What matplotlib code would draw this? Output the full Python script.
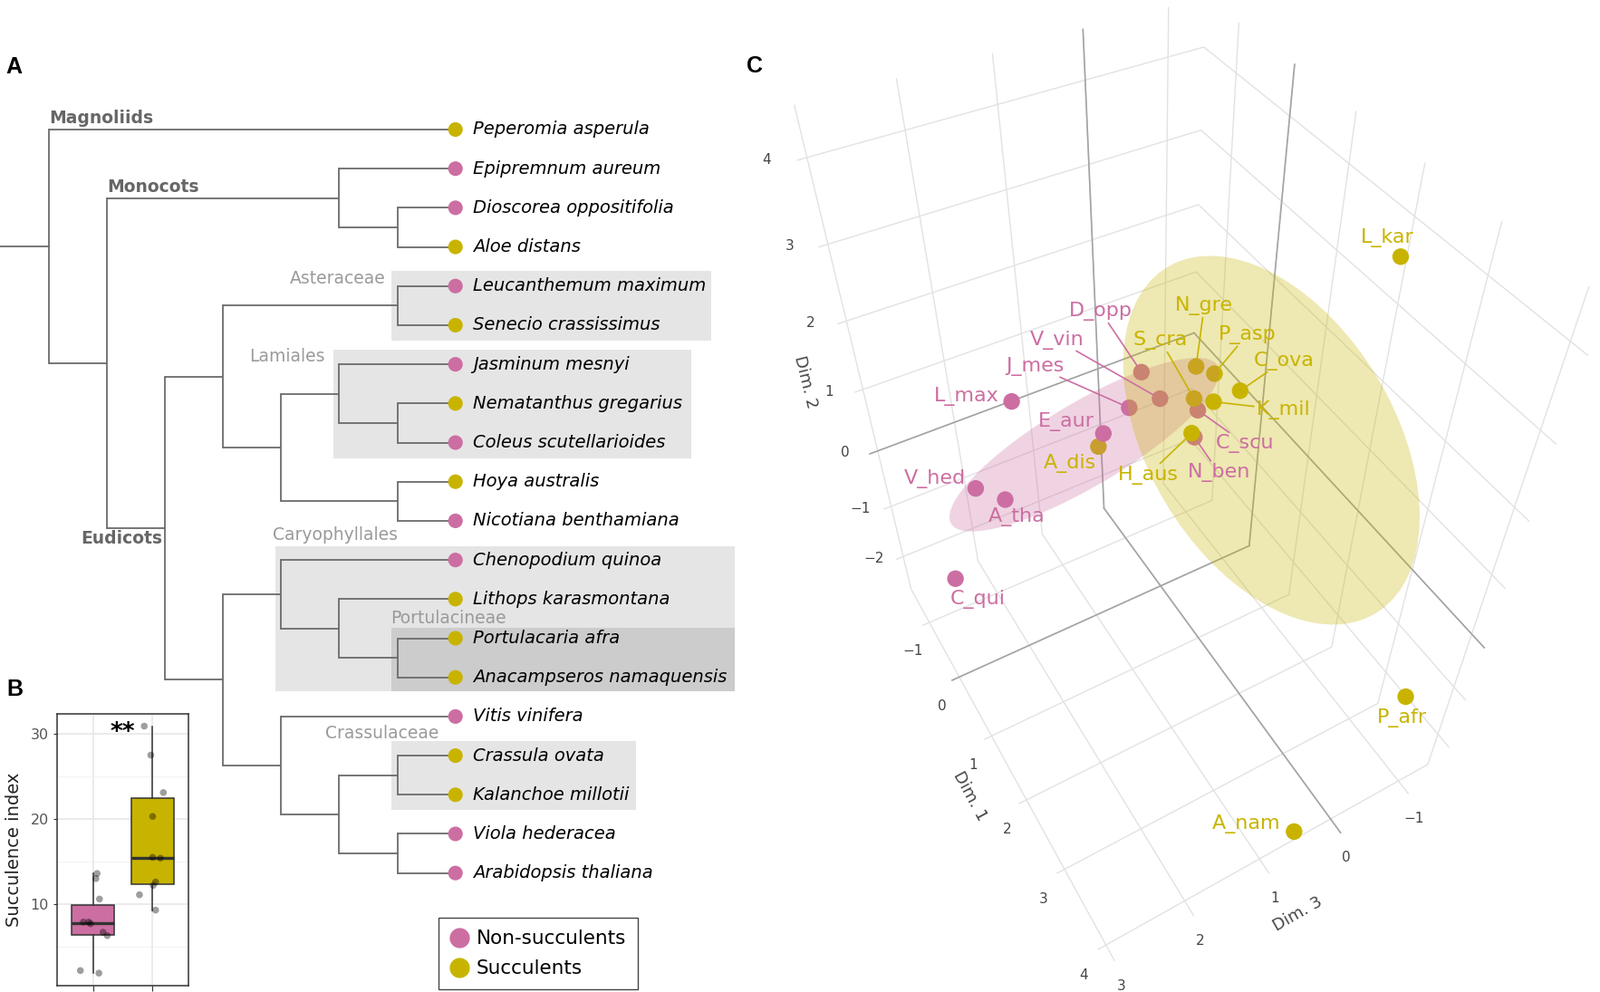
import numpy as np
import matplotlib
matplotlib.use("Agg")
import matplotlib.pyplot as plt
from matplotlib.patches import Rectangle, Polygon
from matplotlib.lines import Line2D

# ---------------- data ----------------
species = ["Peperomia asperula", "Epipremnum aureum", "Dioscorea oppositifolia",
           "Aloe distans", "Leucanthemum maximum", "Senecio crassissimus",
           "Jasminum mesnyi", "Nematanthus gregarius", "Coleus scutellarioides",
           "Hoya australis", "Nicotiana benthamiana", "Chenopodium quinoa",
           "Lithops karasmontana", "Portulacaria afra", "Anacampseros namaquensis",
           "Vitis vinifera", "Crassula ovata", "Kalanchoe millotii",
           "Viola hederacea", "Arabidopsis thaliana"]
short = ["P_asp", "E_aur", "D_opp", "A_dis", "L_max", "S_cra", "J_mes", "N_gre",
         "C_scu", "H_aus", "N_ben", "C_qui", "L_kar", "P_afr", "A_nam", "V_vin",
         "C_ova", "K_mil", "V_hed", "A_tha"]
succulent = [1, 0, 0, 1, 0, 1, 0, 1, 0, 1, 0, 0, 1, 1, 1, 0, 1, 1, 0, 0]

# MDS coordinates (panel C)
dim1 = [1.10, 0.66, 0.62, 0.69, -0.12, 1.09, 0.71, 0.95, 1.17, 1.24,
        1.28, 0.37, 1.64, 4.00, 4.10, 0.87, 1.35, 1.23, 0.05, 0.31]
dim2 = [2.06, 1.35, 1.97, 1.22, 1.50, 1.81, 1.63, 2.10, 1.71, 1.49,
        1.46, -0.32, 3.23, -0.62, -2.21, 1.76, 1.95, 1.81, 0.61, 0.55]
dim3 = [0.03, 1.11, 0.62, 1.19, 1.80, 0.26, 0.82, 0.16, 0.26, 0.37,
        0.36, 2.90, -1.72, -0.70, 0.64, 0.54, -0.13, 0.11, 2.40, 2.17]

# group ellipsoids: centre (dim1, dim2, dim3) and covariance in (dim3, dim1, dim2) order
ell_center = {0: (0.59, 1.22, 1.30), 1: (1.74, 1.50, -0.28)}
ell_cov = {0: [[2.4308, -0.2155, -0.8006],
               [-0.2155, 0.1701, 0.0193],
               [-0.8006, 0.0193, 0.4130]],
           1: [[1.4023, -0.6348, -0.2542],
               [-0.6348, 2.9810, -1.8956],
               [-0.2542, -1.8956, 1.7162]]}

# cladogram: (node column, children); integers are tip indices
tree = (0, [0, (1, [(5, [1, (6, [2, 3])]),
                    (2, [(3, [(6, [4, 5]),
                              (4, [(5, [6, (6, [7, 8])]), (6, [9, 10])])]),
                         (3, [(4, [11, (5, [12, (6, [13, 14])])]),
                              (4, [15, (5, [(6, [16, 17]), (6, [18, 19])])])])])])])
clade_names = ["Asteraceae", "Lamiales", "Caryophyllales", "Portulacineae", "Crassulaceae"]
clade_tips = [(4, 5), (6, 8), (11, 14), (13, 14), (16, 17)]

# succulence index (panel B)
non_succ = [2.2, 1.9, 13.6, 13.0, 10.6, 7.9, 7.9, 7.7, 6.7, 6.3]
non_jit = [-0.21, 0.10, 0.07, 0.05, 0.11, -0.16, -0.07, -0.04, 0.17, 0.24]
succ = [30.9, 27.5, 23.1, 20.3, 15.5, 15.4, 12.6, 12.2, 11.1, 9.3]
succ_jit = [-0.14, -0.03, 0.18, 0.0, 0.0, 0.13, 0.05, 0.01, -0.22, 0.05]

PINK = "#cc6ea2"
YEL = "#c8b400"
LINE = "#6b6b6b"
cols = [YEL if s else PINK for s in succulent]

W, H = 1766, 1095
fig = plt.figure(figsize=(W / 100, H / 100), dpi=100)

# ---------------- panel A: tree ----------------
axA = fig.add_axes([0, 0, 830 / W, 1055 / H])
axA.set_xlim(-0.842, 12.106)
axA.set_ylim(22.04, -2.384)
axA.axis("off")
TIP = 7


def draw(node):
    if isinstance(node, int):
        return node
    col, kids = node
    ys = []
    for k in kids:
        y = draw(k)
        kc = TIP if isinstance(k, int) else k[0]
        axA.plot([col, kc], [y, y], color=LINE, lw=1.3, solid_capstyle="butt", zorder=2)
        ys.append(y)
    axA.plot([col, col], [min(ys), max(ys)], color=LINE, lw=1.3,
             solid_capstyle="projecting", zorder=2)
    return (min(ys) + max(ys)) / 2


yroot = draw(tree)
axA.plot([-0.842, 0], [yroot, yroot], color=LINE, lw=1.3, zorder=2)

# clade shading
box_left = [5.9, 4.9, 3.9, 5.9, 5.9]
box_right = [11.40, 11.06, 11.81, 11.81, 10.11]
pad_top = [0.39, 0.38, 0.35, 0.27, 0.37]
pad_bot = [0.40, 0.40, 0.35, 0.35, 0.38]
box_col = ["#e5e5e5", "#e5e5e5", "#e5e5e5", "#cccccc", "#e5e5e5"]
for (a, b), l, r, pt, pb, c in zip(clade_tips, box_left, box_right, pad_top, pad_bot, box_col):
    axA.add_patch(Rectangle((l, a - pt), r - l, (b + pb) - (a - pt),
                            facecolor=c, edgecolor="none", zorder=0 if c != "#cccccc" else 0.5))

lab_pos = [(5.79, 3.80, "right"), (4.76, 5.79, "right"), (3.85, 10.37, "left"),
           (5.88, 12.50, "left"), (6.72, 15.44, "right")]
for name, (x, y, ha) in zip(clade_names, lab_pos):
    axA.text(x, y, name, ha=ha, va="center", fontsize=13.5, color="#9a9a9a", zorder=3)

for name, (x, y, ha) in zip(["Magnoliids", "Monocots", "Eudicots"],
                            [(0.0, -0.30, "left"), (1.0, 1.48, "left"), (1.95, 10.46, "right")]):
    axA.text(x, y, name, ha=ha, va="center", fontsize=13.5, fontweight="bold",
             color="#666666", zorder=3)

tips_y = np.arange(len(species))
axA.scatter([TIP] * len(species), tips_y, s=135, c=cols, edgecolors="none", zorder=4)
for y, name in zip(tips_y, species):
    axA.text(7.30, y, name, ha="left", va="center", fontsize=14, style="italic", zorder=4)

handles = [Line2D([], [], ls="none", marker="o", ms=16, mfc=PINK, mec="none"),
           Line2D([], [], ls="none", marker="o", ms=16, mfc=YEL, mec="none")]
leg = axA.legend(handles, ["Non-succulents", "Succulents"], loc="lower left",
                 bbox_to_anchor=(484 / W, 3 / H), bbox_transform=fig.transFigure,
                 fontsize=15.5, frameon=True, fancybox=False, edgecolor="#444444",
                 framealpha=1, borderpad=0.6, labelspacing=0.6, handlelength=0.9,
                 handletextpad=0.45, borderaxespad=0)
leg.get_frame().set_linewidth(1.0)

# ---------------- panel B: boxplot ----------------
axB = fig.add_axes([63 / W, 7 / H, 145 / W, 300 / H])
bp = axB.boxplot([non_succ, succ], positions=[1, 2], widths=0.7, patch_artist=True,
                 showfliers=False, showcaps=False,
                 medianprops=dict(color="#333333", lw=2.4),
                 boxprops=dict(edgecolor="#333333", lw=1.1),
                 whiskerprops=dict(color="#333333", lw=1.1), zorder=2)
for patch, c in zip(bp["boxes"], [PINK, YEL]):
    patch.set_facecolor(c)
axB.scatter(1 + np.array(non_jit), non_succ, s=30, color="black", alpha=0.38,
            edgecolors="none", zorder=3)
axB.scatter(2 + np.array(succ_jit), succ, s=30, color="black", alpha=0.38,
            edgecolors="none", zorder=3)
axB.set_xlim(0.4, 2.6)
axB.set_ylim(0.43, 32.34)
axB.set_xticks([1, 2])
axB.set_xticklabels(["", ""])
axB.set_yticks([10, 20, 30])
axB.set_yticks([5, 15, 25], minor=True)
axB.set_axisbelow(True)
axB.grid(True, which="major", color="#e6e6e6", lw=1.1)
axB.grid(True, which="minor", axis="y", color="#f0f0f0", lw=0.6)
axB.tick_params(axis="y", which="minor", length=0)
axB.tick_params(axis="y", labelsize=11.5, labelcolor="#555555", color="#333333", length=3)
axB.tick_params(axis="x", color="#333333", length=4)
for sp in axB.spines.values():
    sp.set_color("#333333")
    sp.set_linewidth(1.1)
axB.set_ylabel("Succulence index", fontsize=14, color="#222222")
axB.yaxis.set_label_coords(-0.26, 0.5)
axB.text(1.5, 29.4, "**", ha="center", va="baseline", fontsize=19, fontweight="bold")

# ---------------- panel C: 3D MDS ----------------
d1lim = (-1.65, 4.2)
d2lim = (-2.7, 4.55)
d3lim = (-1.45, 3.1)
ax3 = fig.add_axes([0.4187, 0.0188, 0.5909, 0.9530], projection="3d")
ax3.patch.set_alpha(0)
ax3.set_xlim(*d3lim)
ax3.set_ylim(*d1lim)
ax3.set_zlim(*d2lim)
ax3.set_box_aspect((d3lim[1] - d3lim[0], d1lim[1] - d1lim[0], d2lim[1] - d2lim[0]))
ax3.set_proj_type("persp", focal_length=0.232)
ax3.view_init(elev=47.23, azim=59.99, roll=-0.22)
ax3.computed_zorder = False
ax3.set_xticks([-1, 0, 1, 2, 3])
ax3.set_yticks([-1, 0, 1, 2, 3, 4])
ax3.set_zticks([-2, -1, 0, 1, 2, 3, 4])
for axis, pad in ((ax3.xaxis, 2), (ax3.yaxis, 8), (ax3.zaxis, 10)):
    axis.set_pane_color((1, 1, 1, 0))
    axis.pane.set_edgecolor((1, 1, 1, 0))
    axis.line.set_linewidth(0)
    axis._axinfo["tick"]["inward_factor"] = 0
    axis._axinfo["tick"]["outward_factor"] = 0
    axis._axinfo["grid"]["color"] = "#e2e2e2"
    axis._axinfo["grid"]["linewidth"] = 1.0
    axis.set_tick_params(labelsize=11, labelcolor="#444444", pad=pad)
ax3.set_xlabel("Dim. 3", fontsize=13, color="#444444", labelpad=6)
ax3.set_ylabel("Dim. 1", fontsize=13, color="#444444", labelpad=13)
ax3.set_zlabel("Dim. 2", fontsize=13, color="#444444", labelpad=15)

# zero lines on the back panes
zl = dict(color="#a3a3a3", lw=1.2, zorder=1)
ax3.plot([0, 0], [d1lim[0]] * 2, d2lim, **zl)
ax3.plot(d3lim, [d1lim[0]] * 2, [0, 0], **zl)
ax3.plot([d3lim[0]] * 2, [0, 0], d2lim, **zl)
ax3.plot([d3lim[0]] * 2, d1lim, [0, 0], **zl)
ax3.plot([0, 0], d1lim, [d2lim[0]] * 2, **zl)
ax3.plot(d3lim, [0, 0], [d2lim[0]] * 2, **zl)

ax3.scatter(dim3, dim1, dim2, c=cols, s=175, depthshade=False, edgecolors="none", zorder=2)

M = ax3.get_proj()


def proj(x, y, z):
    v = M @ np.vstack([x, y, z, np.ones_like(np.asarray(x, float))])
    return v[0] / v[3], v[1] / v[3]


def hull(p):
    p = sorted(map(tuple, p))

    def cross(o, a, b):
        return (a[0] - o[0]) * (b[1] - o[1]) - (a[1] - o[1]) * (b[0] - o[0])
    lo, up = [], []
    for q in p:
        while len(lo) >= 2 and cross(lo[-2], lo[-1], q) <= 0:
            lo.pop()
        lo.append(q)
    for q in reversed(p):
        while len(up) >= 2 and cross(up[-2], up[-1], q) <= 0:
            up.pop()
        up.append(q)
    return np.array(lo[:-1] + up[:-1])


# overlay for the translucent ellipsoids and the labels
axO = fig.add_axes([0, 0, 1, 1])
axO.set_axis_off()
axO.patch.set_alpha(0)

uu, vv = np.meshgrid(np.linspace(0, 2 * np.pi, 72), np.linspace(0, np.pi, 36))
sphere = np.c_[(np.cos(uu) * np.sin(vv)).ravel(), (np.sin(uu) * np.sin(vv)).ravel(),
               np.cos(vv).ravel()]
for flag, c in [(0, PINK), (1, YEL)]:
    c1, c2, c3 = ell_center[flag]
    mu = np.array([c3, c1, c2])
    val, vec = np.linalg.eigh(np.array(ell_cov[flag]))
    E = mu + (sphere * np.sqrt(np.clip(val, 0, None))) @ vec.T
    px, py = proj(E[:, 0], E[:, 1], E[:, 2])
    axO.add_patch(Polygon(hull(np.c_[px, py]), closed=True, facecolor=c, alpha=0.3,
                          edgecolor="none", transform=ax3.transData, clip_on=False, zorder=1))

# label offsets in px (right, down)
label_off = {"L_kar": (-15, -21), "D_opp": (-45, -67), "N_gre": (9, -67), "S_cra": (-37, -64),
             "P_asp": (36, -43), "C_ova": (48, -33), "K_mil": (77, 9), "C_scu": (52, 37),
             "V_vin": (-114, -65), "J_mes": (-104, -46), "L_max": (-50, -6), "E_aur": (-41, -13),
             "A_dis": (-31, 19), "H_aus": (-48, 46), "N_ben": (27, 39), "V_hed": (-45, -11),
             "A_tha": (13, 19), "C_qui": (25, 23), "P_afr": (-4, 23), "A_nam": (-53, -8)}
leader = {"D_opp", "N_gre", "S_cra", "P_asp", "C_ova", "K_mil", "C_scu", "V_vin",
          "J_mes", "H_aus", "N_ben"}
qx, qy = proj(np.array(dim3), np.array(dim1), np.array(dim2))
for i, name in enumerate(short):
    dx, dy = label_off[name]
    ap = None
    if name in leader:
        ap = dict(arrowstyle="-", color=cols[i], lw=1.2, shrinkA=1, shrinkB=6)
    axO.annotate(name, xy=(qx[i], qy[i]), xycoords=ax3.transData,
                 xytext=(dx * 0.72, -dy * 0.72), textcoords="offset points",
                 ha="center", va="center", fontsize=16, color=cols[i],
                 bbox=dict(boxstyle="square,pad=0.05", fc="none", ec="none"),
                 arrowprops=ap, annotation_clip=False, zorder=3)

# panel letters
for t, x, y in [("A", 15, 74), ("B", 16, 761), ("C", 833, 73)]:
    fig.text(x / W, 1 - y / H, t, ha="center", va="center", fontsize=18,
             fontweight="bold", family="Liberation Sans")

fig.savefig("out.png", dpi=100)
